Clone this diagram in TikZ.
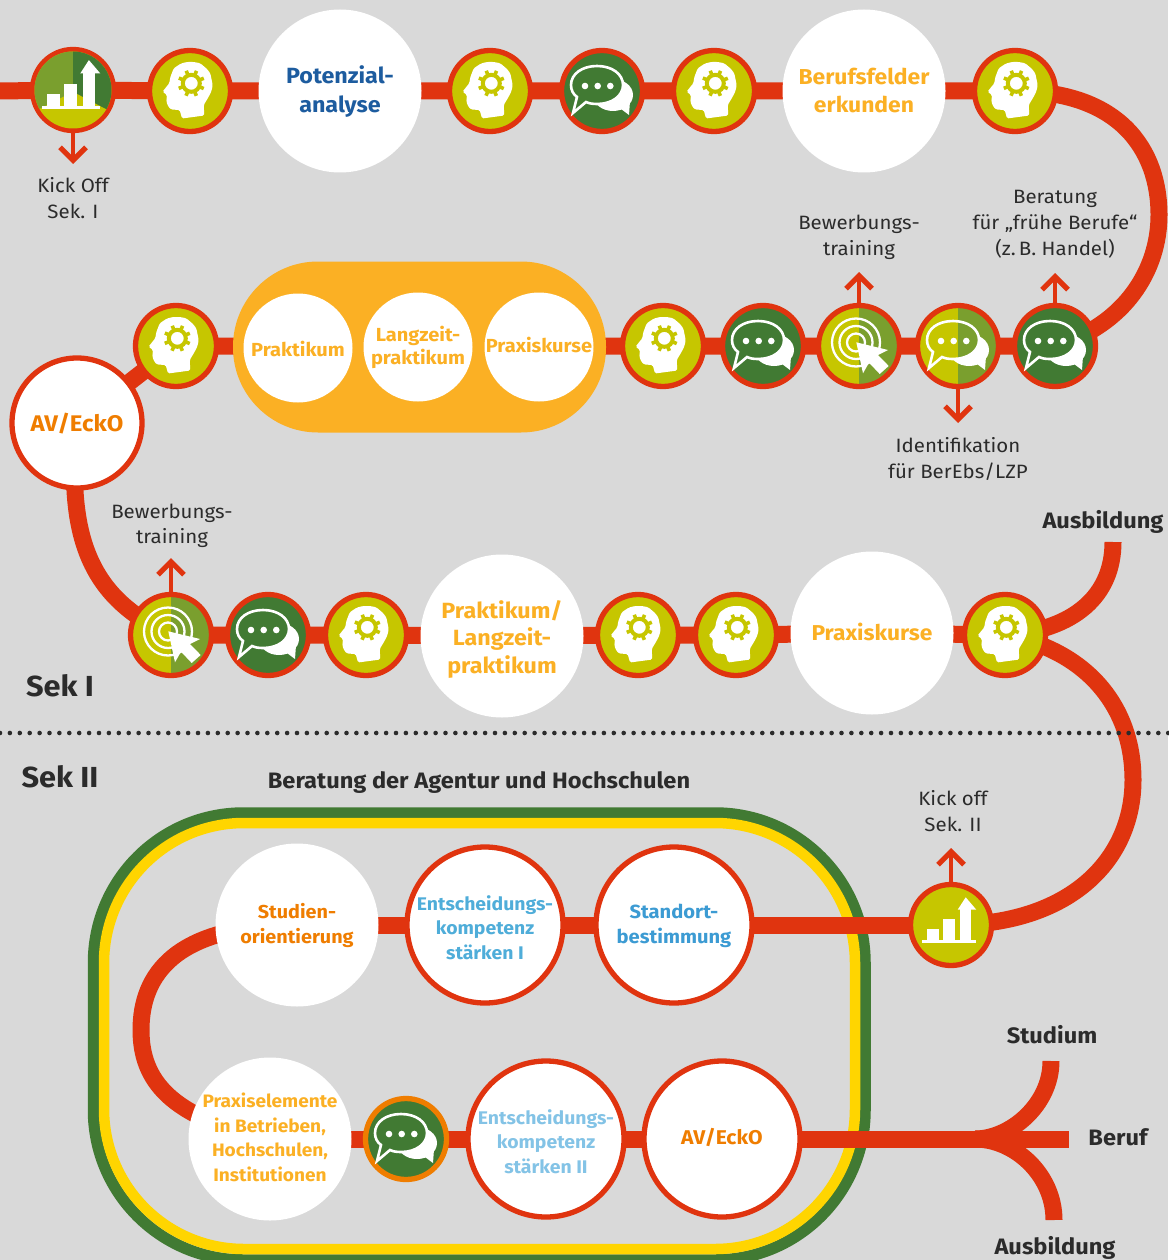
\documentclass[tikz,border=0pt]{standalone}
\usepackage{fontspec}
\setmainfont{Fira Sans}[FakeStretch=1.06]
\usetikzlibrary{arrows.meta,backgrounds}
\definecolor{bgc}{HTML}{D9D9D9}
\definecolor{redc}{HTML}{E0340F}
\definecolor{olivec}{HTML}{C6C600}
\definecolor{lightg}{HTML}{7A9F2E}
\definecolor{darkg}{HTML}{417A33}
\definecolor{yellowc}{HTML}{FFD500}
\definecolor{pillc}{HTML}{FBB024}
\definecolor{orangec}{HTML}{EF7D00}
\definecolor{blue1}{HTML}{1D5C9F}
\definecolor{blue2}{HTML}{4FADD9}
\definecolor{blue3}{HTML}{3C9BD3}
\definecolor{blue4}{HTML}{83C3E6}
\definecolor{textc}{HTML}{2B2B2B}
\tikzset{
  x=1pt,y=-1pt,
  mainline/.style={draw=redc,line width=17pt},
  tickarrow/.style={draw=redc,line width=4.7pt,-{Straight Barb[length=13pt,width=26pt,line width=5.2pt]}},
  iconring/.style={circle,draw=redc,line width=5.3pt,minimum size=81pt,inner sep=0pt,fill=#1},
  halves/.style 2 args={path picture={
     \fill[#1] (path picture bounding box.south west) rectangle (path picture bounding box.north);
     \fill[#2] (path picture bounding box.south) rectangle (path picture bounding box.north east);}},
  whitedisc/.style={circle,fill=white,minimum size=163pt,inner sep=0pt},
  ringdisc/.style={circle,fill=white,draw=redc,line width=5.3pt,minimum size=156pt,inner sep=0pt},
  smalldisc/.style={circle,fill=white,minimum size=109pt,inner sep=0pt},
  disctext/.style n args={3}{align=center,inner sep=0pt,text=#1,font=\bfseries\fontsize{#2}{#3}\selectfont},
  lab/.style={font=\fontsize{19.3}{26}\selectfont,text=textc,align=center,inner sep=0pt},
  boldlab/.style={font=\bfseries\fontsize{22.3}{27}\selectfont,text=textc,align=center,inner sep=0pt},
  seklab/.style={font=\bfseries\fontsize{29}{32}\selectfont,text=textc,inner sep=0pt},
}
\newcommand\headicon[2][olivec]{\begin{scope}[shift={(#2)}]
  \fill[white,rounded corners=1.5pt] (-27.5,0.7) -- (-20.5,-8) -- (-20,-13) -- (-16.3,-22.7) -- (-9,-27.5) -- (-3,-29) -- (4,-29) -- (10.3,-27.7) -- (17,-22) -- (20.3,-17.7) -- (22.7,-6) -- (21.5,0) -- (18.7,5.7) -- (13.7,14) -- (14.3,24.5) -- (-8,27.5) -- (-10.3,19) -- (-19,18.5) -- (-21.5,16) -- (-23.7,10.7) -- (-23,4) -- cycle;
  \draw[#1,line width=4pt] (1.3,-7.7) circle (8.5);
  \foreach \a in {0,45,...,315}{\draw[#1,line width=3.6pt,shift={(1.3,-7.7)},rotate=\a+22] (9,0) -- (13.5,0);}
\end{scope}}
\newcommand\bigbub{(-31,-6) .. controls (-31,-17) and (-20,-25) .. (-5,-25) .. controls (10,-25) and (21,-17) .. (21,-6) .. controls (21,5) and (10,13) .. (-5,13) .. controls (-9,13) and (-13,12.5) .. (-16,11) -- (-29,22) -- (-25,6) .. controls (-29,3) and (-31,-1) .. cycle}
\newcommand\talkicon[3]{\begin{scope}[shift={(#1)}]
  \fill[white] (11,4) ellipse [x radius=20,y radius=16];
  \fill[white] (15,15) -- (27,24) -- (28,10) -- cycle;
  \begin{scope}
    \clip \bigbub;
    \fill[#2] (-40,-30) rectangle (0,30);
    \fill[#3] (0,-30) rectangle (40,30);
  \end{scope}
  \draw[white,line width=2.6pt,line join=miter] \bigbub;
  \fill[white] (-17,-5) circle (3.3) (-4.3,-5) circle (3.3) (8.3,-5) circle (3.3);
\end{scope}}
\newcommand\targeticon[1]{\begin{scope}[shift={(#1)}]
  \draw[white,line width=2.3pt] (-3,-3.5) circle (24) (-3,-3.5) circle (16.5) (-3,-3.5) circle (9);
  \fill[white] (-2.7,-3.7) -- (29,4) -- (19,9) -- (29.7,20) -- (20.7,28) -- (10,16.7) -- (4,27.3) -- cycle;
\end{scope}}
\newcommand\charticon[2][1]{\begin{scope}[shift={(#2)},scale=#1]
  \fill[white] (-28.7,15) rectangle (24.7,18);
  \fill[white] (-24.3,4) rectangle (-12.3,15.5);
  \fill[white] (-8,-6) rectangle (3.7,15.5);
  \fill[white] (9.3,-16) rectangle (20,15.5);
  \fill[white] (6.7,-15.3) -- (14.7,-27.7) -- (25.3,-15.3) -- cycle;
\end{scope}}
\begin{document}
\begin{tikzpicture}
\useasboundingbox (0,0) rectangle (1168,1260);
\begin{pgfonlayer}{background}
  \fill[bgc] (0,0) rectangle (1168,1260);
  \draw[darkg,line width=11.5pt,rounded corners=150pt] (93.5,813) rectangle (865,1260);
  \draw[yellowc,line width=10.5pt,rounded corners=140pt] (104,823) rectangle (855,1249);
\end{pgfonlayer}

% free ends
\coordinate (startA) at (0,91);
\coordinate (ausbA) at (1113,542);
\coordinate (merge) at (975,1139);
\coordinate (berufE) at (1069,1139);
\coordinate (studE) at (1051,1061);
\coordinate (ausbE) at (1054,1220);

% row 1
\node[iconring=olivec] (k1) at (73,90) {};
\node[iconring=olivec] (h1) at (190,91) {};
\node[whitedisc] (pot) at (340,91) {};
\node[disctext={blue1}{22}{29}] (potT) at (340,91.7) {Potenzial-\\analyse};
\node[iconring=olivec] (h2) at (490,91) {};
\node[iconring=darkg] (t1) at (602,91) {};
\node[iconring=olivec] (h3) at (714,91) {};
\node[whitedisc] (bf) at (864,91) {};
\node[disctext={pillc}{21.6}{28}] (bfT) at (864,90.5) {Berufsfelder\\erkunden};
\node[iconring=olivec] (h4) at (1015,91) {};
% row 2
\node[iconring=darkg] (t2) at (1055,346) {};
\node[iconring=olivec,halves={olivec}{lightg}] (t3) at (958,346) {};
\node[iconring=olivec,halves={olivec}{lightg}] (g1) at (859,346) {};
\node[iconring=darkg] (t4) at (763,346) {};
\node[iconring=olivec] (h5) at (663,346) {};
\node[fill=pillc,rounded corners=85pt,minimum width=373pt,minimum height=171pt,inner sep=0pt] (pill) at (419.5,347) {};
\node[smalldisc] (p1) at (298,348) {};
\node[disctext={pillc}{18.9}{23}] (p1T) at (298,349) {Praktikum};
\node[smalldisc] (p2) at (418,347) {};
\node[disctext={pillc}{18.9}{23}] (p2T) at (418,347) {Langzeit-\\praktikum};
\node[smalldisc] (p3) at (539,347) {};
\node[disctext={pillc}{18.9}{23}] (p3T) at (539,344.5) {Praxiskurse};
\node[iconring=olivec] (h6) at (176,346) {};
\node[circle,fill=white,draw=redc,line width=5.3pt,minimum size=130pt,inner sep=0pt] (av1) at (77,423) {};
\node[disctext={orangec}{22.6}{27}] (av1T) at (77,423.5) {AV/EckO};
% row 3
\node[iconring=olivec,halves={olivec}{lightg}] (g2) at (171,635) {};
\node[iconring=darkg] (t5) at (268,635) {};
\node[iconring=olivec] (h7) at (366,635) {};
\node[whitedisc] (pl) at (502,636) {};
\node[disctext={pillc}{22}{27.5}] (plT) at (502,639) {Praktikum/\\Langzeit-\\praktikum};
\node[iconring=olivec] (h8) at (638,635) {};
\node[iconring=olivec] (h9) at (736,635) {};
\node[whitedisc] (pk) at (872,633) {};
\node[disctext={pillc}{21.5}{27}] (pkT) at (872,632) {Praxiskurse};
\node[iconring=olivec] (h10) at (1005,635) {};
% row 4
\node[iconring=olivec] (k2) at (951,925) {};
\node[ringdisc] (sb) at (674,925) {};
\node[disctext={blue3}{19}{24.5}] (sbT) at (674,926) {Standort-\\bestimmung};
\node[ringdisc] (e1) at (485,925) {};
\node[disctext={blue2}{18.3}{24.5}] (e1T) at (485,927.5) {Entscheidungs-\\kompetenz\\stärken I};
\node[whitedisc] (so) at (297,925) {};
\node[disctext={orangec}{18.7}{25}] (soT) at (297,925.5) {Studien-\\orientierung};
% row 5
\node[whitedisc] (px) at (270,1139) {};
\node[disctext={pillc}{18}{24.6}] (pxT) at (270,1137.5) {Praxiselemente\\in Betrieben,\\Hochschulen,\\Institutionen};
\node[circle,draw=orangec,line width=5.3pt,minimum size=81pt,inner sep=0pt,fill=darkg] (t6) at (406,1139) {};
\node[ringdisc] (e2) at (546,1139) {};
\node[disctext={blue4}{18.3}{24.5}] (e2T) at (546,1141.5) {Entscheidungs-\\kompetenz\\stärken II};
\node[ringdisc] (av2) at (722,1139) {};
\node[disctext={orangec}{19.9}{24}] (av2T) at (722,1137) {AV/EckO};

% icons
\begin{scope}[shift={(k1)}]
  \clip (0,0) circle (38.5);
  \fill[olivec] (-40,-40) rectangle (40,40);
  \fill[lightg] (-40,-40) -- (0,-40) -- (0,1.7) -- (-32,18) -- (-40,22) -- cycle;
  \fill[darkg] (40,-40) -- (0,-40) -- (0,1.7) -- (33,19) -- (40,22) -- cycle;
\end{scope}
\charticon[1.08]{k1}\charticon{k2}
\foreach \n in {h1,h2,h3,h4,h5,h6,h7,h8,h9,h10}{\headicon{\n}}
\talkicon{t1}{darkg}{darkg}
\talkicon{t2}{darkg}{darkg}
\talkicon{t3}{olivec}{lightg}
\talkicon{t4}{darkg}{darkg}
\talkicon{t5}{darkg}{darkg}
\talkicon{t6}{darkg}{darkg}
\targeticon{g1}\targeticon{g2}

% connectors
\begin{pgfonlayer}{background}
  \draw[mainline] (startA) -- (k1.center) -- (h1.center) -- (pot.center) -- (h2.center) -- (t1.center) -- (h3.center) -- (bf.center) -- (h4.center);
  \draw[mainline] (h4.center) .. controls (1120,91) and (1159,150) .. (1159,215) .. controls (1159,270) and (1125,325) .. (t2.center);
  \draw[mainline] (t2.center) -- (t3.center) -- (g1.center) -- (t4.center) -- (h5.center) -- (pill.center) -- (h6.center);
  \draw[mainline] (h6.center) -- (av1.center);
  \draw[mainline] (av1.center) .. controls (65,545) and (95,600) .. (g2.center);
  \draw[mainline] (g2.center) -- (t5.center) -- (h7.center) -- (pl.center) -- (h8.center) -- (h9.center) -- (pk.center) -- (h10.center);
  \draw[mainline] (ausbA) .. controls (1113,595) and (1075,630) .. (h10.center);
  \draw[mainline] (h10.center) .. controls (1085,650) and (1133,705) .. (1133,780) .. controls (1133,860) and (1070,925) .. (k2.center);
  \draw[mainline] (k2.center) -- (sb.center) -- (e1.center) -- (so.center);
  \draw[mainline] (so.center) .. controls (175,925) and (141,975) .. (141,1030) .. controls (141,1080) and (170,1118) .. (px.center);
  \draw[mainline] (px.center) -- (t6.center) -- (e2.center) -- (av2.center) -- (merge) -- (berufE);
  \draw[mainline] (studE) .. controls (1051,1105) and (1010,1139) .. (merge);
  \draw[mainline] (ausbE) .. controls (1054,1175) and (1015,1139) .. (merge);
  \draw[line width=4.6pt,line cap=round,dash pattern=on 0pt off 9.9pt,textc] (0,733) -- (1180,733);
\end{pgfonlayer}

% small arrows
\coordinate (tipA) at (73,164);
\coordinate (tipB) at (859,272);
\coordinate (tipC) at (1055,273);
\coordinate (tipD) at (958,423);
\coordinate (tipE) at (171,558);
\coordinate (tipF) at (951,848);
\draw[tickarrow] (k1.south) -- (tipA);
\draw[tickarrow] (g1.north) -- (tipB);
\draw[tickarrow] (t2.north) -- (tipC);
\draw[tickarrow] (t3.south) -- (tipD);
\draw[tickarrow] (g2.north) -- (tipE);
\draw[tickarrow] (k2.north) -- (tipF);

% labels
\node[lab] (l1) at (73,198) {Kick Off\\Sek. I};
\node[lab] (l2) at (859,237) {Bewerbungs-\\training};
\node[lab] (l3) at (1055,224) {Beratung\\für „frühe Berufe“\\(z.\,B. Handel)};
\node[lab] (l4) at (958,459) {Identifikation\\für BerEbs/LZP};
\node[lab,font=\fontsize{19.3}{24.5}\selectfont] (l5) at (172,526) {Bewerbungs-\\training};
\node[lab] (l6) at (953,811) {Kick off\\Sek. II};
\node[boldlab] (a1) at (1103,522) {Ausbildung};
\node[boldlab] (a2) at (1052,1035) {Studium};
\node[boldlab] (a3) at (1118,1137) {Beruf};
\node[boldlab] (a4) at (1055,1248) {Ausbildung};
\node[boldlab] (a5) at (479,783) {Beratung der Agentur und Hochschulen};
\node[seklab] (s1) at (60,686) {Sek I};
\node[seklab] (s2) at (60,777) {Sek II};
\end{tikzpicture}
\end{document}
